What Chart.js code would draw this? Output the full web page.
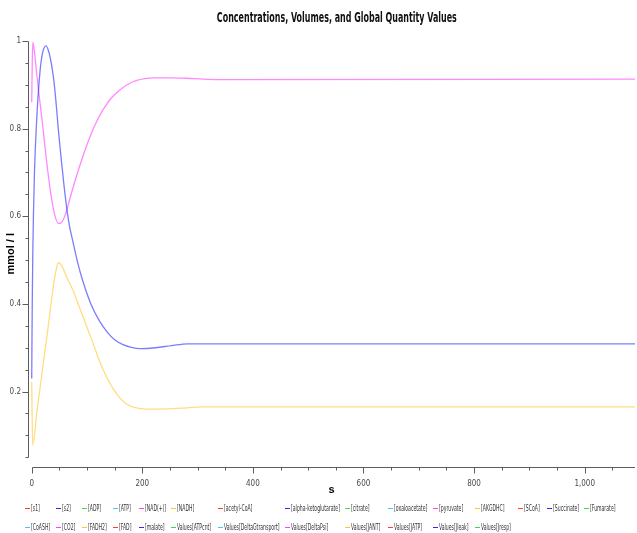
<!DOCTYPE html>
<html>
<head>
<meta charset="utf-8">
<script src="https://cdn.jsdelivr.net/npm/chart.js@4.4.1/dist/chart.umd.min.js"></script>
<style>
  html, body { margin: 0; padding: 0; background: #fff; }
  #wrap { position: relative; width: 637px; height: 533px; overflow: hidden; }
  #chart { position: absolute; left: 0; top: 0; }
  #title { position: absolute; left: 137px; top: 8px; width: 400px; text-align: center;
           font: bold 14px "Liberation Sans Narrow", "DejaVu Sans Condensed", sans-serif;
           line-height: 18px; color: #111; white-space: nowrap; }
  #title span { display: inline-block; transform-origin: 50% 50%; }
  .lg { position: absolute; height: 10px; white-space: nowrap; }
  .lg .mk { position: absolute; left: 0; top: 5px; width: 5px; height: 1px; }
  .lg .tx { position: absolute; left: 6px; top: 0; font: 8.5px "Liberation Sans Narrow", "DejaVu Sans Condensed", sans-serif;
            line-height: 10px; color: #333; transform-origin: 0 50%; }
</style>
</head>
<body>
<div id="wrap">
  <canvas id="chart" width="637" height="533"></canvas>
  <div id="title"><span>Concentrations, Volumes, and Global Quantity Values</span></div>
  <div id="legend"></div>
</div>
<script>
// Series shown in the legend, in order
const seriesNames = ['[s1]', '[s2]', '[ADP]', '[ATP]', '[NAD(+)]', '[NADH]', '[acetyl-CoA]',
  '[alpha-ketoglutarate]', '[citrate]', '[oxaloacetate]', '[pyruvate]', '[AKGDHC]', '[SCoA]',
  '[Succinate]', '[Fumarate]', '[CoASH]', '[CO2]', '[FADH2]', '[FAD]', '[malate]',
  'Values[ATPcnt]', 'Values[DeltaGtransport]', 'Values[DeltaPsi]', 'Values[JANT]',
  'Values[JATP]', 'Values[Jleak]', 'Values[Jresp]'];

// Time course of [s2] (s, mmol/l)
const s2Time   = [0, 1, 2, 5, 9, 15, 20, 26, 31, 36, 40, 44, 48, 53, 58, 63, 68, 74, 83, 93, 107, 123, 137, 150, 165, 180, 196, 224, 253, 282, 1091];
const s2Values = [0.23, 0.40, 0.52, 0.70, 0.82, 0.93, 0.975, 0.989, 0.975, 0.945, 0.91, 0.86, 0.80, 0.735, 0.675, 0.622, 0.58, 0.545, 0.495, 0.45, 0.40, 0.36, 0.335, 0.318, 0.307, 0.301, 0.298, 0.300, 0.305, 0.309, 0.309];

// Time course of [NAD(+)]
const nadTime   = [0, 1, 2, 5, 9, 14, 20, 27, 33, 38, 43, 48, 53, 58, 63, 69, 83, 99, 115, 130, 144, 160, 175, 190, 205, 220, 250, 280, 310, 340, 1091];
const nadValues = [0.86, 0.95, 0.997, 0.975, 0.925, 0.87, 0.805, 0.725, 0.665, 0.625, 0.597, 0.584, 0.585, 0.595, 0.612, 0.64, 0.70, 0.76, 0.81, 0.845, 0.87, 0.889, 0.902, 0.91, 0.914, 0.916, 0.916, 0.915, 0.913, 0.912, 0.913];

// Time course of [NADH]
const nadhTime   = [0, 1.8, 10, 20, 30, 38, 43, 48, 53, 58, 63, 75, 87, 99, 111, 124, 136, 148, 160, 172, 185, 208, 255, 280, 310, 1091];
const nadhValues = [0.222, 0.078, 0.16, 0.255, 0.35, 0.43, 0.47, 0.494, 0.49, 0.478, 0.462, 0.43, 0.39, 0.35, 0.31, 0.265, 0.232, 0.205, 0.185, 0.171, 0.164, 0.160, 0.161, 0.163, 0.165, 0.165];

// Axis ranges and tick steps
const X_MIN = -6.7, X_MAX = 1091, X_STEP = 50, X_LABEL_STEP = 200;
const Y_MIN = 0.029, Y_MAX = 1, Y_AXIS_LOW = 0.05, Y_STEP = 0.05, Y_LABEL_STEP = 0.2;

const legendColors = ['#ff3b3b', '#2b2bff', '#3ddc3d', '#3fc8ff', '#ff3fff', '#ffc832'];
const lineAlpha = 0.62;

const seriesData = {
  '[s2]': [s2Time, s2Values],
  '[NAD(+)]': [nadTime, nadValues],
  '[NADH]': [nadhTime, nadhValues]
};

function withAlpha(hex, a) {
  const n = parseInt(hex.slice(1), 16);
  return `rgba(${(n >> 16) & 255},${(n >> 8) & 255},${n & 255},${a})`;
}

const datasets = seriesNames.map((name, i) => {
  const src = seriesData[name];
  const pts = src ? src[0].map((t, k) => ({ x: t, y: src[1][k] })) : [];
  return {
    label: name,
    data: pts,
    legendColor: legendColors[i % legendColors.length],
    borderColor: withAlpha(legendColors[i % legendColors.length], lineAlpha),
    borderWidth: 1.3,
    pointRadius: 0,
    fill: false,
    cubicInterpolationMode: 'monotone',
    clip: 4
  };
});

const isMultiple = (v, step) => Math.abs(v / step - Math.round(v / step)) < 1e-6;

// Axis lines that stop at the data range, with long major and short minor ticks
const offsetAxes = {
  id: 'offsetAxes',
  afterDraw(chart) {
    const { ctx, chartArea, scales: { x, y } } = chart;
    ctx.save();
    ctx.strokeStyle = '#5c5c5c';
    ctx.lineWidth = 1;
    ctx.beginPath();
    const yx = Math.round(chartArea.left) + 0.5;
    ctx.moveTo(yx, Math.round(y.getPixelForValue(Y_MAX)) + 0.5);
    ctx.lineTo(yx, Math.round(y.getPixelForValue(Y_AXIS_LOW)) + 0.5);
    y.ticks.forEach(t => {
      const p = Math.round(y.getPixelForValue(t.value)) + 0.5;
      const len = isMultiple(t.value, Y_LABEL_STEP) ? 6 : 3;
      ctx.moveTo(yx - len, p);
      ctx.lineTo(yx, p);
    });
    const xy = Math.round(chartArea.bottom) + 0.5;
    ctx.moveTo(Math.round(x.getPixelForValue(0)) + 0.5, xy);
    ctx.lineTo(chartArea.right, xy);
    x.ticks.forEach(t => {
      const p = Math.round(x.getPixelForValue(t.value)) + 0.5;
      const len = isMultiple(t.value, X_LABEL_STEP) ? 6 : 3;
      ctx.moveTo(p, xy);
      ctx.lineTo(p, xy + len);
    });
    ctx.stroke();
    ctx.restore();
  }
};

// Legend laid out in aligned columns below the plot
const htmlLegend = {
  id: 'htmlLegend',
  afterInit(chart) {
    const cols = [25, 56, 82, 113, 139, 171, 218, 285, 345, 388, 433, 475, 518, 547, 584];
    const rows = [503, 522];
    const box = document.getElementById('legend');
    const texts = [];
    chart.data.datasets.forEach((ds, i) => {
      const r = i < cols.length ? 0 : 1;
      const c = i < cols.length ? i : i - cols.length;
      const item = document.createElement('div');
      item.className = 'lg';
      item.style.left = cols[c] + 'px';
      item.style.top = rows[r] + 'px';
      const mk = document.createElement('span');
      mk.className = 'mk';
      mk.style.background = ds.legendColor;
      const tx = document.createElement('span');
      tx.className = 'tx';
      tx.textContent = ds.label;
      item.appendChild(mk);
      item.appendChild(tx);
      box.appendChild(item);
      texts.push(tx);
    });
    // condense the small legend font to the narrow column widths
    const ref = texts[7].getBoundingClientRect().width;
    const k = ref > 0 ? 49 / ref : 1;
    texts.forEach(t => { t.style.transform = `scaleX(${k})`; });
  }
};

const tickFont = { family: '"Liberation Sans Narrow", "DejaVu Sans Condensed", sans-serif', size: 8 };
const axisTitleFont = { family: '"Liberation Sans", Arial, sans-serif', size: 11, weight: 'bold' };

new Chart(document.getElementById('chart'), {
  type: 'line',
  data: { datasets },
  options: {
    responsive: false,
    animation: false,
    devicePixelRatio: 1,
    layout: { padding: { top: 41, right: 2, bottom: 36, left: 0 } },
    plugins: { legend: { display: false }, title: { display: false }, tooltip: { enabled: false } },
    scales: {
      x: {
        type: 'linear', min: X_MIN, max: X_MAX,
        grid: { display: false, drawTicks: false, tickLength: 0 },
        border: { display: false },
        ticks: {
          autoSkip: false, maxRotation: 0, padding: 13,
          font: tickFont, color: '#4a4a4a',
          callback: v => isMultiple(v, X_LABEL_STEP) ? Math.round(v).toLocaleString('en-US') : ''
        },
        afterBuildTicks: s => {
          const t = [];
          for (let k = 0; k * X_STEP <= X_MAX; k++) t.push({ value: k * X_STEP });
          s.ticks = t;
        },
        afterFit: s => { s.height = 30.5; },
        title: { display: true, text: 's', font: axisTitleFont, color: '#000', padding: { top: 0, bottom: 0 } }
      },
      y: {
        type: 'linear', min: Y_MIN, max: Y_MAX,
        grid: { display: false, drawTicks: false, tickLength: 0 },
        border: { display: false },
        ticks: {
          autoSkip: false, padding: 7,
          font: tickFont, color: '#4a4a4a',
          callback: v => isMultiple(v, Y_LABEL_STEP) ? String(Math.round(v * 10) / 10) : ''
        },
        afterBuildTicks: s => {
          const t = [];
          for (let k = Math.round(Y_AXIS_LOW / Y_STEP); k * Y_STEP <= Y_MAX + 1e-9; k++) {
            t.push({ value: Math.round(k * Y_STEP * 100) / 100 });
          }
          s.ticks = t;
        },
        afterFit: s => { s.width = 28; },
        title: { display: true, text: 'mmol / l', font: axisTitleFont, color: '#000', padding: { top: 4, bottom: 0 } }
      }
    }
  },
  plugins: [offsetAxes, htmlLegend]
});

// Fit the condensed title to its width
const tspan = document.querySelector('#title span');
const natural = tspan.getBoundingClientRect().width;
if (natural > 0) tspan.style.transform = `scaleX(${240 / natural})`;
</script>
</body>
</html>
